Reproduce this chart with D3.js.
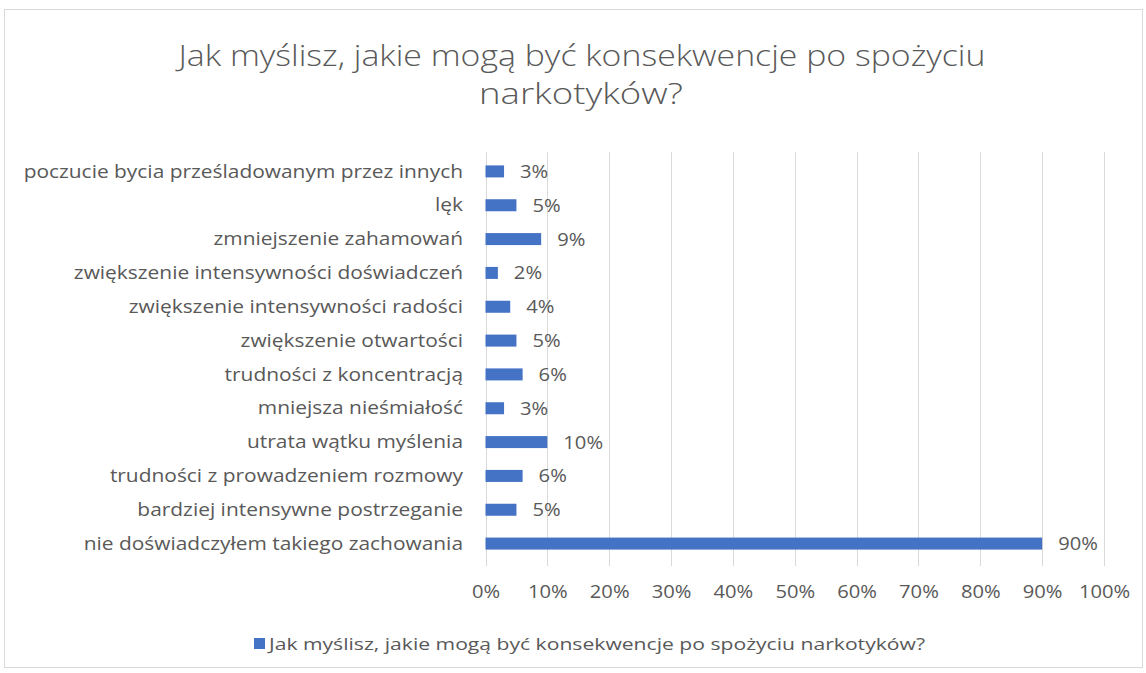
<!DOCTYPE html>
<html><head><meta charset="utf-8">
<script src="https://cdn.jsdelivr.net/npm/d3@7"></script>
<style>
html,body{margin:0;padding:0;background:#fff;}
text{font-family:"Open Sans",sans-serif;fill:#595959;}
</style></head>
<body>
<svg id="chart" width="1146" height="673"></svg>
<script>
const titleLines = ["Jak myślisz, jakie mogą być konsekwencje po spożyciu", "narkotyków?"];
const categories = [
  "poczucie bycia prześladowanym przez innych",
  "lęk",
  "zmniejszenie zahamowań",
  "zwiększenie intensywności doświadczeń",
  "zwiększenie intensywności radości",
  "zwiększenie otwartości",
  "trudności z koncentracją",
  "mniejsza nieśmiałość",
  "utrata wątku myślenia",
  "trudności z prowadzeniem rozmowy",
  "bardziej intensywne postrzeganie",
  "nie doświadczyłem takiego zachowania"
];
const values = [3, 5, 9, 2, 4, 5, 6, 3, 10, 6, 5, 90];
const xTicks = [0, 10, 20, 30, 40, 50, 60, 70, 80, 90, 100];
const seriesName = "Jak myślisz, jakie mogą być konsekwencje po spożyciu narkotyków?";

const svg = d3.select("#chart");
const W = 1146, H = 673;
svg.append("rect").attr("width", W).attr("height", H).attr("fill", "#fff");
// chart border
svg.append("rect").attr("x", 4.5).attr("y", 9.5).attr("width", 1138).attr("height", 658)
  .attr("fill", "none").attr("stroke", "#d9d9d9").attr("stroke-width", 1);

const x = d3.scaleLinear().domain([0, 100]).range([485.5, 1104]);
const y = d3.scaleBand().domain(categories).range([154.5, 560.5]).paddingInner(0.64).paddingOuter(0.32);

// stretch text horizontally by a factor of its natural width
function stretch(sel, k) {
  sel.each(function() {
    const w = this.getComputedTextLength();
    d3.select(this).attr("textLength", w * k).attr("lengthAdjust", "spacingAndGlyphs");
  });
}
function fit(sel, w) {
  sel.attr("textLength", w).attr("lengthAdjust", "spacingAndGlyphs");
}

// title
const tl = svg.append("g");
tl.append("text").attr("x", 582).attr("y", 66).attr("text-anchor", "middle")
  .style("font-size", "29px").style("font-weight", 300).text(titleLines[0]).call(fit, 807);
tl.append("text").attr("x", 581).attr("y", 104).attr("text-anchor", "middle")
  .style("font-size", "29px").style("font-weight", 300).text(titleLines[1]).call(fit, 204);

// gridlines
svg.append("g").selectAll("line").data(xTicks).join("line")
  .attr("x1", d => Math.round(x(d)) + 0.5).attr("x2", d => Math.round(x(d)) + 0.5)
  .attr("y1", 152).attr("y2", 566)
  .attr("stroke", "#d9d9d9").attr("stroke-width", 1);

// x axis labels via d3 axis
const xAxis = d3.axisBottom(x).tickValues(xTicks).tickFormat(d => d + "%").tickSize(0).tickPadding(0);
const xg = svg.append("g").attr("transform", "translate(0,598)").call(xAxis);
xg.select(".domain").remove();
xg.selectAll("text").style("font-size", "18px").style("font-family", "'Open Sans',sans-serif")
  .attr("fill", "#595959").attr("dy", "0").attr("y", 0).call(stretch, 1.12);

// y axis labels via d3 axis
const yAxis = d3.axisLeft(y).tickSize(0).tickPadding(0);
const yg = svg.append("g").attr("transform", "translate(463,0)").call(yAxis);
yg.select(".domain").remove();
yg.selectAll("text").style("font-size", "18.5px").style("font-family", "'Open Sans',sans-serif")
  .attr("fill", "#595959").attr("dy", "0.33em").call(stretch, 1.13);

// bars
const bh = 12;
svg.append("g").selectAll("rect").data(values).join("rect")
  .attr("x", x(0)).attr("y", (d, i) => y(categories[i]) + y.bandwidth() / 2 - bh / 2)
  .attr("width", d => x(d) - x(0)).attr("height", bh).attr("fill", "#4472C4");

// data labels
svg.append("g").selectAll("text").data(values).join("text")
  .attr("x", d => x(d) + 16).attr("y", (d, i) => y(categories[i]) + y.bandwidth() / 2)
  .attr("dy", "0.36em").style("font-size", "18px").text(d => d + "%").call(stretch, 1.12);

// legend
const lg = svg.append("g");
lg.append("rect").attr("x", 254).attr("y", 638).attr("width", 11).attr("height", 11).attr("fill", "#4472C4");
lg.append("text").attr("x", 269).attr("y", 650).style("font-size", "17px").text(seriesName).call(fit, 656);
</script>
</body></html>
